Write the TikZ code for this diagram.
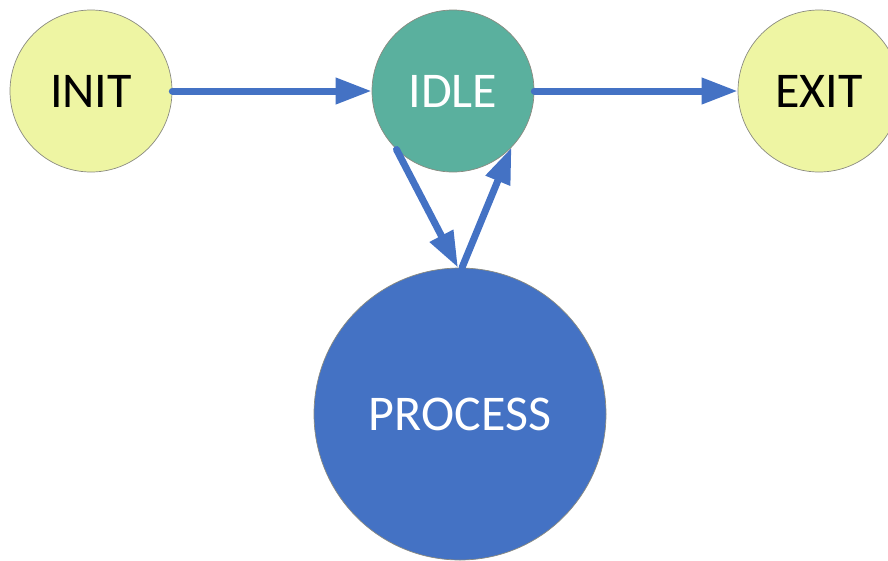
\documentclass[tikz,border=0pt]{standalone}
\usepackage{fontspec}
\setmainfont{Carlito}
\usetikzlibrary{arrows.meta}
\definecolor{yfill}{HTML}{EEF5A3}
\definecolor{tfill}{HTML}{5AB09E}
\definecolor{bfill}{HTML}{4472C4}
\definecolor{edgeblue}{HTML}{4472C4}
\definecolor{rim}{HTML}{8A8A80}
\tikzset{
  state/.style={circle, draw=rim, line width=0.7pt, inner sep=0pt,
    font=\fontsize{50}{60}\selectfont},
  arr/.style={draw=edgeblue, line width=7pt, line cap=round,
    -{Triangle[length=36pt,width=25pt]}},
}
\begin{document}
\begin{tikzpicture}[x=1pt,y=-1pt]
\useasboundingbox (0,0) rectangle (888,560);
\clip (0,0) rectangle (888,560);
\node[state, fill=yfill, minimum size=162pt, text=black] (init) at (91,91) {INIT};
\node[state, fill=tfill, minimum size=162pt, text=white] (idle) at (453,91) {IDLE};
\node[state, fill=yfill, minimum size=162pt, text=black] (exit) at (819,91) {EXIT};
\node[state, fill=bfill, minimum size=292pt, text=white] (process) at (460,414) {PROCESS};
\draw[arr] (init.east) -- (idle.west);
\draw[arr] (idle.east) -- (exit.west);
\draw[arr] (idle.-134) -- ([xshift=-2pt]process.north);
\draw[arr] ([xshift=2pt]process.north) -- (idle.-44);
\end{tikzpicture}
\end{document}
